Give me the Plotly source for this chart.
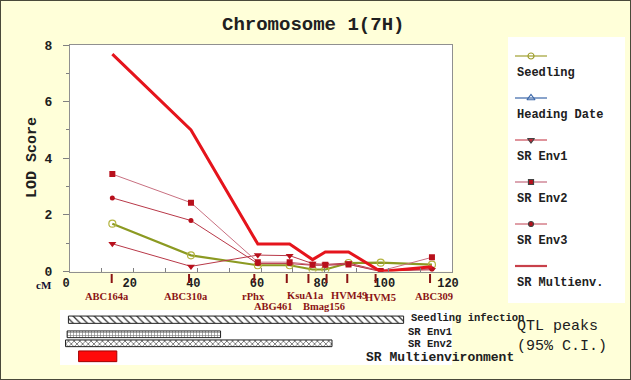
import plotly.graph_objects as go

W, H = 631, 380

# ---------------- data ----------------
lod_cm = [13.3, 38.0, 59.0, 69.0, 76.2, 80.2, 87.5, 97.6, 113.7]
seedling = [1.69, 0.57, 0.22, 0.22, 0.07, 0.07, 0.30, 0.31, 0.24]
sr_env1 = [0.98, 0.18, 0.58, 0.56, 0.28, 0.25, 0.30, 0.02, 0.06]
sr_env2 = [3.44, 2.43, 0.33, 0.33, 0.24, 0.24, 0.25, 0.02, 0.50]
sr_env3 = [2.60, 1.80, 0.28, 0.28, 0.22, 0.22, 0.25, 0.00, 0.10]
sr_multi = [7.68, 5.00, 0.97, 0.97, 0.42, 0.69, 0.69, 0.00, 0.17]

marker_names = ["ABC164a", "ABC310a", "rPhx", "ABG461", "KsuA1a",
                "Bmag156", "HVM49", "HVM5", "ABC309"]
marker_cm = [13.1, 37.4, 57.9, 68.1, 74.9, 80.6, 87.1, 96.0, 113.1]

qtl_names = ["Seedling infection", "SR Env1", "SR Env2", "SR Multienvironment"]
qtl_start = [-0.5, -0.9, -1.4, 2.7]
qtl_end = [104.8, 47.3, 82.3, 14.7]

legend_names = ["Seedling", "Heading Date", "SR Env1", "SR Env2", "SR Env3", "SR Multienv."]

# ---------------- styles / layout ----------------
def px(y):
    return (H - y) / H

def pxx(x):
    return x / W

# label placement (layout only)
label_x = [11.5, 36.4, 57.6, 64.0, 74.1, 79.8, 87.5, 97.5, 114.5]
label_y = [296.5, 296.5, 296.5, 306.5, 295.5, 306.5, 295.5, 297.5, 296.5]

OLIVE = "#8C9A22"
BLUE = "#3A66A8"
DRED = "#B8101C"
LRED = "#B83848"
PINK = "#C87080"
RED = "#E5141C"
MRED = "#8B1414"

series = [
    dict(name="Seedling", y=seedling, line=dict(color=OLIVE, width=2.2),
         marker=dict(symbol="circle-open", size=7, color="#B4B440", line=dict(width=1.2))),
    dict(name="SR Env1", y=sr_env1, line=dict(color=LRED, width=1),
         marker=dict(symbol="triangle-down", size=7, color=DRED)),
    dict(name="SR Env2", y=sr_env2, line=dict(color=PINK, width=1),
         marker=dict(symbol="square", size=6, color=DRED)),
    dict(name="SR Env3", y=sr_env3, line=dict(color=LRED, width=1),
         marker=dict(symbol="circle", size=5, color=DRED)),
    dict(name="SR Multienv.", y=sr_multi, line=dict(color=RED, width=3),
         marker=dict(size=1, opacity=0)),
]

fig = go.Figure()
for s in series:
    fig.add_trace(go.Scatter(x=lod_cm, y=s["y"], mode="lines+markers", name=s["name"],
                             line=s["line"], marker=s["marker"], showlegend=False,
                             xaxis="x", yaxis="y"))

# custom legend samples (symbol above label as in the reference)
leg_styles = [
    dict(color="#A0A030", sym="circle-open", size=6, lw=1.2),
    dict(color=BLUE, sym="triangle-up-open", size=7, lw=1.2),
    dict(color="#C02838", sym="triangle-down", size=6, lw=1),
    dict(color="#D08898", sym="square", size=5, lw=1.5, mcol=DRED),
    dict(color="#C04050", sym="circle", size=5, lw=1, mcol=DRED),
    dict(color="#C8404A", sym=None, size=0, lw=2.2),
]
for i, (nm, st) in enumerate(zip(legend_names, leg_styles)):
    fig.add_trace(go.Scatter(x=[0, 1], y=[i, i], mode="lines", line=dict(color=st["color"], width=st["lw"]),
                             showlegend=False, hoverinfo="skip", xaxis="x3", yaxis="y3"))
    if st["sym"]:
        fig.add_trace(go.Scatter(x=[0.5], y=[i], mode="markers",
                                 marker=dict(symbol=st["sym"], size=st["size"],
                                             color=st.get("mcol", st["color"]), line=dict(width=1.2)),
                                 showlegend=False, hoverinfo="skip", xaxis="x3", yaxis="y3"))

# QTL confidence interval bars
bar_rows = [319.7, 334.3, 343.3, 356.3]
bar_widths = [7.3, 6.7, 6.7, 10.7]
bar_patterns = [
    dict(shape="\\", size=5, solidity=0.25, fgcolor="#303030", bgcolor="white"),
    dict(shape="+", size=3, solidity=0.35, fgcolor="#707070", bgcolor="white"),
    dict(shape="x", size=4, solidity=0.3, fgcolor="#404040", bgcolor="white"),
    dict(shape="", fgcolor=RED, bgcolor=RED),
]
bar_colors = ["white", "white", "white", "#FF0A0A"]
for i in range(len(qtl_names)):
    fig.add_trace(go.Bar(
        y=[bar_rows[i]], x=[qtl_end[i] - qtl_start[i]], base=[qtl_start[i]], orientation="h",
        width=[bar_widths[i]], name=qtl_names[i],
        marker=dict(color=bar_colors[i], pattern=bar_patterns[i],
                    line=dict(color="#202020" if i < 3 else "#A00000", width=1)),
        showlegend=False, xaxis="x2", yaxis="y2"))

shapes = []
for c in marker_cm:
    shapes.append(dict(type="line", xref="x", yref="paper", x0=c, x1=c, y0=px(274), y1=px(283),
                       line=dict(color=MRED, width=2)))
shapes.insert(0, dict(type="rect", xref="paper", yref="paper", x0=pxx(508), x1=pxx(625),
                      y0=px(303), y1=px(37), fillcolor="white", line=dict(width=0), layer="below"))
shapes.append(dict(type="rect", xref="paper", yref="paper", x0=0, x1=1, y0=0, y1=1,
                   line=dict(color="#4A4A3A", width=2)))

ann = []
def A(**kw):
    kw.setdefault("xanchor", "center")
    kw.setdefault("yanchor", "middle")
    kw.setdefault("showarrow", False)
    ann.append(kw)

A(text="Chromosome 1(7H)", xref="paper", yref="paper", x=pxx(313), y=px(25),
  font=dict(family="Liberation Mono", size=19, color="#202020", weight="bold"))
A(text="LOD Score", xref="paper", yref="paper", x=pxx(33), y=px(158), textangle=-90,
  font=dict(family="Liberation Mono", size=15, color="#202020", weight="bold"))
A(text="cM", xref="paper", yref="paper", x=pxx(43.5), y=px(285),
  font=dict(family="Liberation Serif", size=11, color="#101030", weight="bold"))
for nm, lx, ly in zip(marker_names, label_x, label_y):
    A(text=nm, xref="x", yref="paper", x=lx, y=px(ly),
      font=dict(family="Liberation Serif", size=10.5, color=MRED, weight="bold"))
for i, nm in enumerate(legend_names):
    A(text=nm, xref="paper", yref="y3", x=pxx(515), xanchor="left", y=i + 0.41,
      font=dict(family="Liberation Mono", size=12, color="#202020", weight="bold"))
qtl_lab_x = [408.5, 405.6, 405.6, 364]
qtl_lab_y = [317.7, 331.7, 343.5, 357.7]
qtl_lab_size = [10.5, 10.5, 10.5, 13]
for nm, lx, ly, fs in zip(qtl_names, qtl_lab_x, qtl_lab_y, qtl_lab_size):
    A(text=nm, xref="paper", yref="paper", x=pxx(lx), xanchor="left", y=px(ly),
      font=dict(family="Liberation Mono", size=fs, color="#202020", weight="bold"))
A(text="QTL peaks<br>(95% C.I.)", xref="paper", yref="paper", x=pxx(515), xanchor="left",
  y=px(336), align="left", font=dict(family="Liberation Mono", size=15, color="#202020"))

fig.update_layout(
    template="none",
    width=W, height=H, margin=dict(l=0, r=0, t=0, b=0, pad=0),
    paper_bgcolor="#FFFFD9", plot_bgcolor="white",
    showlegend=False, barmode="overlay",
    xaxis=dict(domain=[pxx(70), pxx(452)], range=[0, 120], dtick=20, ticks="inside", ticklen=4,
               tickcolor="#808080", showline=True, linecolor="#909090", mirror=True, showgrid=False,
               zeroline=False, minor=dict(dtick=10, ticks="inside", ticklen=4, tickcolor="#808080"),
               tickfont=dict(family="Liberation Mono", size=12, color="#202020", weight="bold"),
               ticklabelshift=-4, ticklabelstandoff=0, anchor="y", automargin=False),
    yaxis=dict(domain=[px(271.5), px(45)], range=[0, 8], dtick=2, ticks="outside", ticklen=6,
               tickcolor="#808080", showline=True, linecolor="#909090", mirror=True, showgrid=False,
               zeroline=False, minor=dict(dtick=1, ticks="outside", ticklen=3, tickcolor="#808080"),
               tickfont=dict(family="Liberation Mono", size=13, color="#202020", weight="bold"),
               ticklabelstandoff=8, anchor="x", automargin=False),
    xaxis2=dict(domain=[pxx(60), pxx(452)], range=[(60 - 70) / 3.183, 120], visible=False,
                anchor="y2", automargin=False),
    yaxis2=dict(domain=[px(365), px(310)], range=[365, 310], visible=False, anchor="x2",
                automargin=False),
    xaxis3=dict(domain=[pxx(515), pxx(547)], range=[0, 1], visible=False, anchor="y3",
                automargin=False),
    yaxis3=dict(domain=[px(300), px(40)], range=[244 / 42, -16 / 42], visible=False, anchor="x3",
                automargin=False),
    shapes=shapes, annotations=ann,
)

fig.write_html("out.html", config={"displayModeBar": False},
               post_script="document.body.style.margin='0px';document.body.style.overflow='hidden';")
